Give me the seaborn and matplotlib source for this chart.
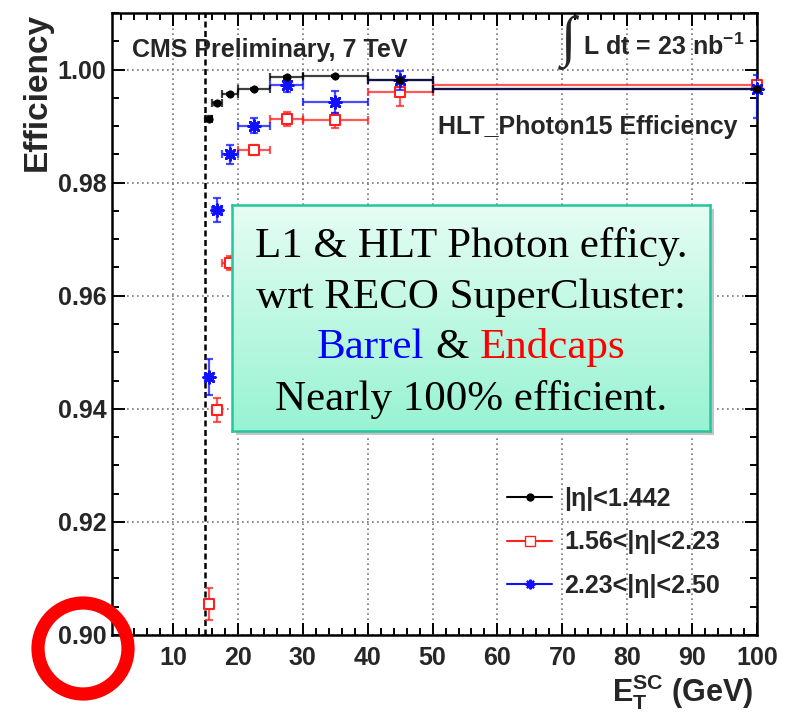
import numpy as np
import pandas as pd
import matplotlib
matplotlib.use("Agg")
import matplotlib.pyplot as plt
import seaborn as sns
from matplotlib.lines import Line2D
from matplotlib.patches import Ellipse, Rectangle
from matplotlib.ticker import MultipleLocator, FormatStrFormatter
from matplotlib.colors import LinearSegmentedColormap

# ---------------- data ----------------
bin_lo = [15.0, 16.0, 17.5, 20.0, 25.0, 30.0, 40.0, 50.0]
bin_hi = [16.0, 17.5, 20.0, 25.0, 30.0, 40.0, 50.0, 150.0]
bin_center = [15.5, 16.75, 18.75, 22.5, 27.5, 35.0, 45.0, 100.0]

barrel_eff = [0.9913, 0.9940, 0.9957, 0.9966, 0.9986, 0.9988, 0.9981, 0.9965]
barrel_err = [0.0004, 0.0003, 0.0002, 0.0002, 0.0002, 0.0002, 0.0003, 0.0002]

endcap_eff = [0.9055, 0.9398, 0.9658, 0.9857, 0.9913, 0.9910, 0.9960, 0.9972]
endcap_err = [0.0029, 0.0022, 0.0012, 0.0009, 0.0012, 0.0013, 0.0024, 0.0006]

fwd_eff = [0.9456, 0.9751, 0.9850, 0.9901, 0.9972, 0.9943, 0.9981, 0.9965]
fwd_err_lo = [0.0032, 0.0021, 0.0017, 0.0013, 0.0012, 0.0019, 0.0017, 0.0051]
fwd_err_hi = [0.0032, 0.0021, 0.0017, 0.0013, 0.0012, 0.0019, 0.0017, 0.0025]

legend_labels = ["|η|<1.442", "1.56<|η|<2.23", "2.23<|η|<2.50"]
x_ticks = [10, 20, 30, 40, 50, 60, 70, 80, 90, 100]
y_ticks = [0.90, 0.92, 0.94, 0.96, 0.98, 1.00]

# ---------------- style ----------------
sns.set_style("ticks")
plt.rcParams['font.family'] = ['Liberation Sans', 'DejaVu Sans']
plt.rcParams['font.weight'] = 'bold'
plt.rcParams['axes.labelweight'] = 'bold'
plt.rcParams['mathtext.fontset'] = 'custom'
plt.rcParams['mathtext.bf'] = 'Liberation Sans:bold'
plt.rcParams['mathtext.rm'] = 'Liberation Sans:bold'
plt.rcParams['mathtext.it'] = 'Liberation Sans:bold:italic'

W, H = 791, 714
fig = plt.figure(figsize=(W / 100, H / 100), dpi=100)
fig.patch.set_facecolor('white')
ax = fig.add_axes([112 / W, 1 - 635 / H, 645 / W, 622 / H])

ax.set_xlim(0.6, 100)
ax.set_ylim(0.90, 1.01)

xc = np.array(bin_center)
xerr = [xc - np.array(bin_lo), np.array(bin_hi) - xc]

RED = '#ff2020'
BLUE = '#1010ff'

def draw_series(y, ylo, yhi, color, marker, size, face, lw, z):
    ax.errorbar(xc, y, xerr=xerr, yerr=[ylo, yhi], fmt='none', ecolor=color,
                elinewidth=1.6, capsize=3, capthick=1.6, alpha=0.75, zorder=z)
    sns.scatterplot(x=xc, y=y, ax=ax, marker=marker, s=size, color=color,
                    linewidth=lw, zorder=z + 0.5)
    coll = ax.collections[-1]
    coll.set_facecolor(face)
    coll.set_edgecolor(color)
    coll.set_linewidth(lw)
    coll.set_clip_on(False)

draw_series(endcap_eff, endcap_err, endcap_err, RED, 's', 50, 'white', 1.5, 3)
draw_series(fwd_eff, fwd_err_lo, fwd_err_hi, BLUE, (8, 2, 0), 70, BLUE, 2.0, 4)
draw_series(barrel_eff, barrel_err, barrel_err, 'black', 'o', 28, 'black', 0.5, 5)

# vertical dashed threshold line
ax.axvline(15, color='black', lw=1.8, ls=(0, (2.4, 1.4)), zorder=2)

# axes styling
ax.set_xticks(x_ticks)
ax.set_yticks(y_ticks)
ax.xaxis.set_minor_locator(MultipleLocator(2))
ax.yaxis.set_minor_locator(MultipleLocator(0.005))
ax.yaxis.set_major_formatter(FormatStrFormatter('%.2f'))
ax.tick_params(which='both', direction='in', top=True, right=True, width=1.4, color='black')
ax.tick_params(which='major', length=9, labelsize=18)
ax.tick_params(which='minor', length=5)
ax.tick_params(axis='x', pad=8)
ax.tick_params(axis='y', pad=4)
for sp in ax.spines.values():
    sp.set_linewidth(1.8)
    sp.set_color('black')
ax.grid(True, which='major', color='#777777', ls=(0, (1, 2)), lw=1.2, zorder=1)
ax.set_axisbelow(True)

ax.set_xlabel(r"$\mathbf{E}_{\mathbf{T}}^{\mathbf{SC}}$ (GeV)", fontsize=22,
              fontweight='bold', loc='right')
ax.xaxis.set_label_coords((753 - 112) / 645, (635 - 692) / 622)
ax.xaxis.label.set_va('center')
ax.set_ylabel("Efficiency", fontsize=24, fontweight='bold', loc='top')
ax.yaxis.set_label_coords((37 - 112) / 645, 1.0)
ax.yaxis.label.set_va('center')

# legend
handles = [
    Line2D([], [], color='black', marker='o', markersize=5, lw=1.5),
    Line2D([], [], color=RED, marker='s', markersize=7, markerfacecolor='white', lw=1.5),
    Line2D([], [], color=BLUE, marker=(8, 2, 0), markersize=7, mew=1.5, lw=1.5),
]
ax.legend(handles, legend_labels, loc='upper left', frameon=False,
          bbox_to_anchor=((507 - 112) / 645, (635 - 487) / 622),
          fontsize=18, handlelength=1.8, handletextpad=0.5, labelspacing=0.78,
          borderpad=0, borderaxespad=0)

# texts
fig.text(132 / W, 1 - 57 / H, "CMS Preliminary, 7 TeV", fontsize=18, weight='bold',
         ha='left', va='baseline')
fig.text(568 / W, 1 - 42 / H, "∫", fontsize=40, weight='normal',
         family=['Liberation Serif', 'DejaVu Serif'], ha='center', va='center')
fig.text(583 / W, 1 - 55 / H, r"L dt = 23 nb$^{\mathbf{-1}}$", fontsize=18, weight='bold',
         ha='left', va='baseline')
fig.text(438 / W, 1 - 134 / H, "HLT_Photon15 Efficiency", fontsize=18, weight='bold',
         ha='left', va='baseline')

# annotation box with gradient + shadow
bx0, by0, bw, bh = 232 / W, 1 - 431 / H, 478 / W, 226 / H
shadow = Rectangle((bx0 + 4 / W, by0 - 4 / H), bw, bh, transform=fig.transFigure,
                   facecolor='#c4c4c4', edgecolor='none', zorder=10)
fig.add_artist(shadow)
box = fig.add_axes([bx0, by0, bw, bh], zorder=20)
grad = np.linspace(0, 1, 256).reshape(-1, 1)
cmap = LinearSegmentedColormap.from_list('g', ['#e6fdf4', '#97f3d3'])
box.imshow(grad, aspect='auto', cmap=cmap, extent=[0, 1, 0, 1], origin='upper')
box.set_xlim(0, 1)
box.set_ylim(0, 1)
box.set_xticks([])
box.set_yticks([])
for sp in box.spines.values():
    sp.set_color('#22c79a')
    sp.set_linewidth(1.8)

serif = ['Liberation Serif', 'DejaVu Serif']
tk = dict(fontsize=31, family=serif, weight='normal', ha='center', va='baseline')
box.text(0.5, 0.771, "L1 & HLT Photon efficy.", color='black', **tk)
box.text(0.5, 0.544, "wrt RECO SuperCluster:", color='black', **tk)
full = box.text(0.5, 0.323, "Barrel & Endcaps", color='none', **tk)
box.text(0.5, 0.093, "Nearly 100% efficient.", color='black', **tk)

fig.canvas.draw()
r = fig.canvas.get_renderer()
ext = full.get_window_extent(r).transformed(box.transAxes.inverted())
full.remove()
tl = dict(tk)
tl['ha'] = 'left'
tb = box.text(ext.x0, 0.323, "Barrel", color='blue', **tl)
tr_ = dict(tk)
tr_['ha'] = 'right'
te = box.text(ext.x1, 0.323, "Endcaps", color='red', **tr_)
fig.canvas.draw()
eb = tb.get_window_extent(r).transformed(box.transAxes.inverted())
ee = te.get_window_extent(r).transformed(box.transAxes.inverted())
box.text((eb.x1 + ee.x0) / 2, 0.323, "&", color='black', **tk)

# red highlight circle around the lowest tick label
circ = Ellipse((83 / W, 1 - 648.5 / H), 90 / W, 91 / H, transform=fig.transFigure,
               fill=False, edgecolor='#ff0000', lw=9.5, zorder=30)
fig.add_artist(circ)

fig.savefig("out.png", dpi=100)
